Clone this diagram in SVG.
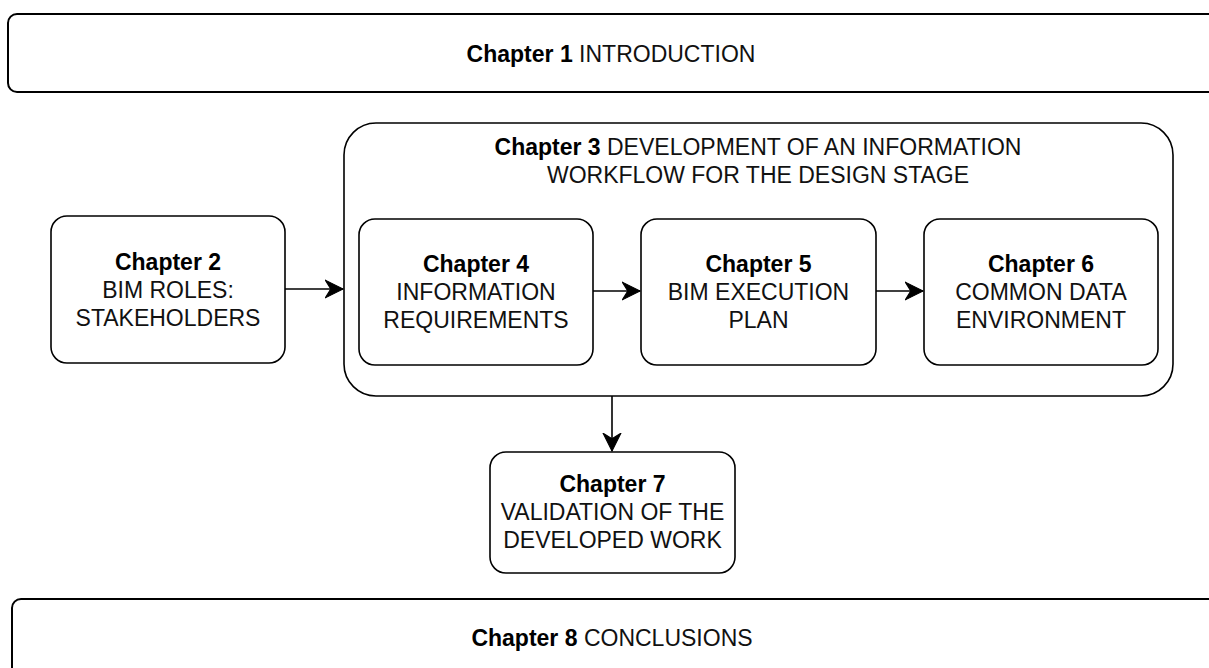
<svg xmlns="http://www.w3.org/2000/svg" width="1209" height="668" viewBox="0 0 1209 668">
<defs>
<style>
.box{fill:#fff;stroke:#000;stroke-width:1.6}
.wide{fill:#fff;stroke:#000;stroke-width:2}
text{font-family:"Liberation Sans",Arial,sans-serif;font-size:23px;fill:#111;text-anchor:middle}
.b{font-weight:bold;fill:#000}
.edge{fill:none;stroke:#000;stroke-width:1.6}
</style>
<marker id="arr" markerUnits="userSpaceOnUse" markerWidth="20" markerHeight="20" viewBox="-16 -9 18 18" refX="0" refY="0" orient="auto">
<path d="M0,0 L-16,-8 L-11,0 L-16,8 Z" fill="#000" stroke="#000" stroke-width="1"/>
</marker>
</defs>
<rect width="1209" height="668" fill="#fff"/>
<g id="ch1">
<rect class="wide" x="8" y="14" width="1212" height="78" rx="9"/>
<text x="611" y="62"><tspan class="b">Chapter 1</tspan> INTRODUCTION</text>
</g>
<g id="ch3">
<rect class="box" x="344" y="123" width="829" height="273" rx="32"/>
<text x="758" y="155"><tspan class="b">Chapter 3</tspan> DEVELOPMENT OF AN INFORMATION</text>
<text x="758" y="183">WORKFLOW FOR THE DESIGN STAGE</text>
</g>
<g id="ch2">
<rect class="box" x="51" y="216" width="234" height="147" rx="16"/>
<text x="168" y="270" class="b">Chapter 2</text>
<text x="168" y="298">BIM ROLES:</text>
<text x="168" y="326">STAKEHOLDERS</text>
</g>
<g id="ch4">
<rect class="box" x="359" y="219" width="234" height="146" rx="16"/>
<text x="476" y="272" class="b">Chapter 4</text>
<text x="476" y="300">INFORMATION</text>
<text x="476" y="328">REQUIREMENTS</text>
</g>
<g id="ch5">
<rect class="box" x="641" y="219" width="235" height="146" rx="16"/>
<text x="758.5" y="272" class="b">Chapter 5</text>
<text x="758.5" y="300">BIM EXECUTION</text>
<text x="758.5" y="328">PLAN</text>
</g>
<g id="ch6">
<rect class="box" x="924" y="219" width="234" height="146" rx="16"/>
<text x="1041" y="272" class="b">Chapter 6</text>
<text x="1041" y="300">COMMON DATA</text>
<text x="1041" y="328">ENVIRONMENT</text>
</g>
<g id="ch7">
<rect class="box" x="490" y="452" width="245" height="121" rx="16"/>
<text x="612.5" y="492" class="b">Chapter 7</text>
<text x="612.5" y="520">VALIDATION OF THE</text>
<text x="612.5" y="548">DEVELOPED WORK</text>
</g>
<g id="ch8">
<rect class="wide" x="12" y="599" width="1210" height="90" rx="9"/>
<text x="612" y="646"><tspan class="b">Chapter 8</tspan> CONCLUSIONS</text>
</g>
<g id="connectors">
<line class="edge" x1="285" y1="289" x2="343" y2="289" marker-end="url(#arr)"/>
<line class="edge" x1="593" y1="291" x2="640" y2="291" marker-end="url(#arr)"/>
<line class="edge" x1="876" y1="291" x2="923" y2="291" marker-end="url(#arr)"/>
<line class="edge" x1="612" y1="396" x2="612" y2="451" marker-end="url(#arr)"/>
</g>
</svg>
